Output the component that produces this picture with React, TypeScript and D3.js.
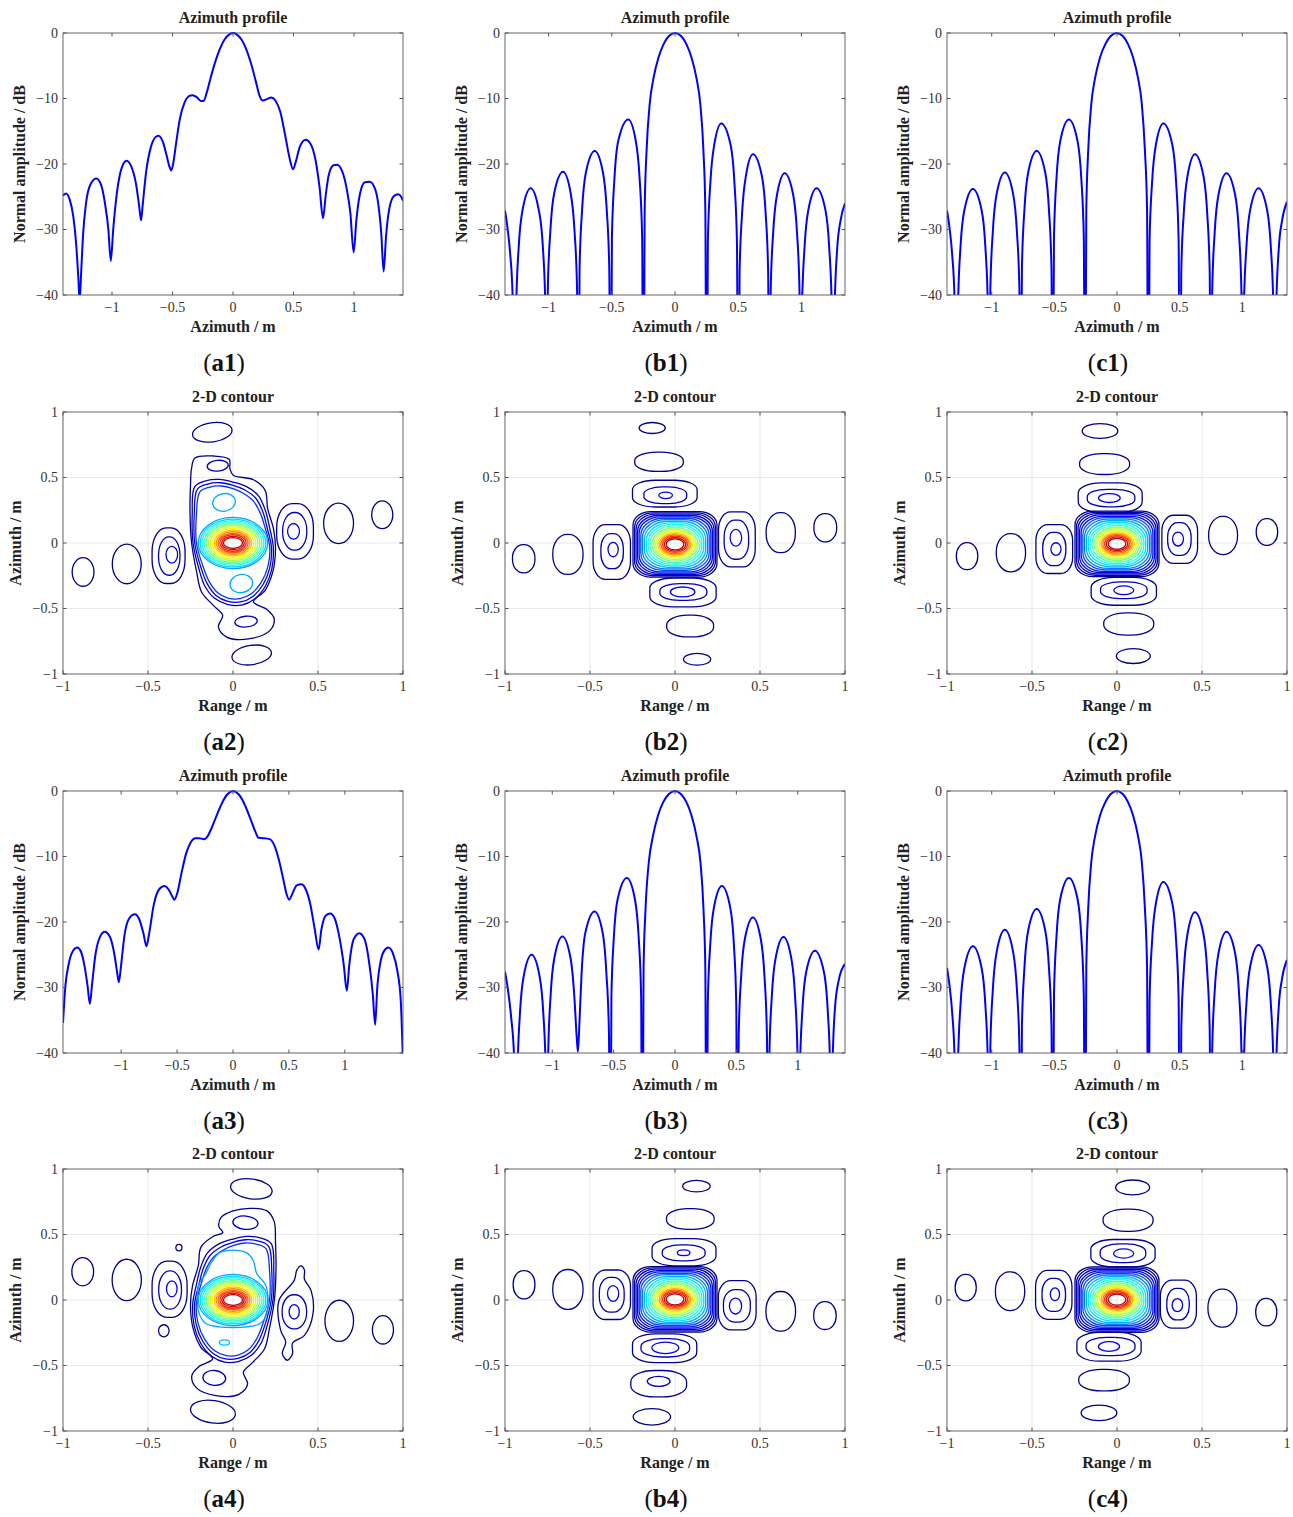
import * as d3 from "d3";
import { useEffect, useRef } from "react";

type Pt = [number, number];
// contour ring: [range, azimuth, halfRange, halfAzimuth, roundness, level, tiltDeg]
type Ring = number[];
// main-lobe ring: [halfRange, halfAzimuth, roundness, level]
type MainRing = number[];

// ---------- azimuth profiles: [azimuth m, normal amplitude dB] ----------
const profileA1: Pt[] = [
  [-1.405, -24.8], [-1.38, -24.5], [-1.35, -25.4], [-1.32, -28], [-1.295, -32.5], [-1.278, -37.5], [-1.267, -41],
  [-1.256, -37], [-1.24, -31], [-1.215, -26], [-1.18, -23.2], [-1.13, -22.2], [-1.09, -23.2], [-1.06, -25.8],
  [-1.03, -30], [-1.01, -34.8], [-0.99, -30], [-0.96, -24.5], [-0.92, -20.6], [-0.88, -19.5], [-0.84, -20.4],
  [-0.8, -23.2], [-0.775, -26.5], [-0.76, -28.6], [-0.745, -26], [-0.72, -21.5], [-0.68, -17.5], [-0.64, -15.9],
  [-0.617, -15.7], [-0.58, -16.6], [-0.55, -18.6], [-0.525, -20.4], [-0.51, -21], [-0.495, -20], [-0.47, -16.8],
  [-0.44, -13.2], [-0.4, -10.6], [-0.36, -9.6], [-0.335, -9.5], [-0.3, -9.8], [-0.265, -10.4], [-0.245, -10.4],
  [-0.22, -9.3], [-0.19, -7.2], [-0.15, -4.6], [-0.11, -2.5], [-0.07, -1], [-0.03, -0.2], [0, 0], [0.03, -0.2],
  [0.07, -1], [0.11, -2.5], [0.15, -4.7], [0.19, -7.5], [0.22, -9.6], [0.245, -10.3], [0.28, -10.1], [0.317, -9.85],
  [0.35, -10.3], [0.39, -12], [0.43, -15.5], [0.47, -19.3], [0.496, -20.8], [0.52, -19.6], [0.55, -17.5],
  [0.6, -16.3], [0.64, -16.9], [0.68, -19.2], [0.715, -23.5], [0.744, -28.3], [0.765, -25], [0.79, -21.8],
  [0.83, -20.2], [0.86, -20.1], [0.9, -21], [0.94, -23.8], [0.97, -27.5], [0.997, -33.5], [1.02, -28.5],
  [1.05, -24.5], [1.09, -22.8], [1.13, -22.7], [1.17, -23.6], [1.2, -26], [1.225, -30.5], [1.245, -36.4],
  [1.265, -31], [1.29, -27], [1.33, -24.9], [1.365, -24.6], [1.39, -25], [1.405, -25.6],
];

const profileB1: Pt[] = [
  [-1.345, -27.1], [-1.325, -29.8], [-1.305, -33.5], [-1.285, -40], [-1.266, -70],
  [-1.256, -41.5], [-1.236, -32.5], [-1.206, -27], [-1.142, -23.7], [-1.078, -27], [-1.046, -32.5], [-1.026, -41.5], [-1.016, -70],
  [-1.006, -39], [-0.986, -30.2], [-0.956, -24.5], [-0.886, -21.2], [-0.825, -24.5], [-0.795, -30.2], [-0.775, -39], [-0.765, -70],
  [-0.755, -36], [-0.735, -27], [-0.705, -21.3], [-0.635, -18], [-0.57, -21.3], [-0.54, -27], [-0.52, -36], [-0.509, -70],
  [-0.499, -31.2], [-0.479, -22.2], [-0.449, -16.5], [-0.37, -13.2], [-0.31, -16.5], [-0.28, -22.2], [-0.26, -31.2], [-0.25, -70],
  [-0.24, -27], [-0.225, -18], [-0.2, -10.8], [-0.17, -6.9], [-0.13, -3.7], [-0.09, -1.7], [-0.05, -0.5], [0, 0],
  [0.05, -0.5], [0.09, -1.7], [0.13, -3.7], [0.17, -6.9], [0.2, -10.8], [0.225, -18], [0.24, -27], [0.25, -70],
  [0.26, -31.8], [0.28, -22.8], [0.31, -17.1], [0.366, -13.8], [0.44, -17.1], [0.47, -22.8], [0.49, -31.8], [0.501, -70],
  [0.511, -36.5], [0.531, -27.5], [0.561, -21.8], [0.617, -18.5], [0.687, -21.8], [0.717, -27.5], [0.737, -36.5], [0.747, -70],
  [0.757, -39.4], [0.777, -30.4], [0.807, -24.7], [0.868, -21.4], [0.935, -24.7], [0.965, -30.4], [0.985, -39.4], [0.995, -70],
  [1.005, -41.7], [1.025, -32.7], [1.055, -27], [1.12, -23.7], [1.19, -27], [1.22, -32.7], [1.24, -41.7], [1.253, -70],
  [1.263, -42], [1.283, -33], [1.31, -28.6], [1.345, -26],
];

const profileC1: Pt[] = [
  [-1.357, -27.1], [-1.335, -30], [-1.315, -34], [-1.297, -40.5], [-1.279, -70],
  [-1.269, -41.6], [-1.249, -32.6], [-1.219, -27.1], [-1.15, -23.8], [-1.08, -27.1], [-1.051, -32.6], [-1.031, -41.6], [-1.021, -70],
  [-1.011, -39.1], [-0.991, -30.3], [-0.961, -24.6], [-0.895, -21.3], [-0.829, -24.6], [-0.799, -30.3], [-0.779, -39.1], [-0.769, -70],
  [-0.759, -36], [-0.739, -27], [-0.709, -21.3], [-0.641, -18], [-0.573, -21.3], [-0.543, -27], [-0.523, -36], [-0.513, -70],
  [-0.503, -31.2], [-0.483, -22.2], [-0.453, -16.5], [-0.384, -13.2], [-0.315, -16.5], [-0.285, -22.2], [-0.265, -31.2], [-0.255, -70],
  [-0.245, -27], [-0.23, -18], [-0.205, -10.8], [-0.175, -6.9], [-0.135, -3.7], [-0.093, -1.7], [-0.052, -0.5], [-0.002, 0],
  [0.048, -0.5], [0.088, -1.7], [0.128, -3.7], [0.168, -6.9], [0.198, -10.8], [0.223, -18], [0.24, -27], [0.25, -70],
  [0.26, -31.8], [0.28, -22.8], [0.31, -17.1], [0.37, -13.8], [0.442, -17.1], [0.472, -22.8], [0.492, -31.8], [0.503, -70],
  [0.513, -36.5], [0.533, -27.5], [0.563, -21.8], [0.622, -18.5], [0.69, -21.8], [0.72, -27.5], [0.74, -36.5], [0.75, -70],
  [0.76, -39.4], [0.78, -30.4], [0.81, -24.7], [0.874, -21.4], [0.943, -24.7], [0.973, -30.4], [0.993, -39.4], [1.003, -70],
  [1.013, -41.7], [1.033, -32.7], [1.063, -27], [1.13, -23.7], [1.198, -27], [1.228, -32.7], [1.248, -41.7], [1.261, -70],
  [1.271, -42], [1.291, -33], [1.318, -28.6], [1.357, -25.8],
];

const profileA3: Pt[] = [
  [-1.52, -35.4], [-1.5, -30], [-1.47, -26.5], [-1.43, -24.4], [-1.393, -23.9], [-1.36, -24.5], [-1.33, -26.5],
  [-1.3, -29.8], [-1.28, -32.5], [-1.26, -29.5], [-1.23, -25], [-1.19, -22.3], [-1.146, -21.5], [-1.1, -22.3],
  [-1.06, -25], [-1.035, -27.8], [-1.021, -29.2], [-1.0, -26.5], [-0.97, -22], [-0.93, -19.5], [-0.878, -18.8],
  [-0.84, -19.5], [-0.8, -21.8], [-0.774, -23.7], [-0.75, -21.8], [-0.71, -17.5], [-0.66, -15], [-0.613, -14.5],
  [-0.57, -15.2], [-0.54, -16.2], [-0.524, -16.6], [-0.5, -15.7], [-0.46, -12.5], [-0.42, -9.6], [-0.38, -7.9],
  [-0.336, -7.2], [-0.3, -7.2], [-0.262, -7.35], [-0.23, -7], [-0.2, -6], [-0.15, -3.9], [-0.1, -1.9], [-0.05, -0.5],
  [0, 0], [0.05, -0.5], [0.1, -1.9], [0.155, -4.2], [0.2, -6.2], [0.229, -7.15], [0.27, -7.2], [0.327, -7.35],
  [0.37, -8.3], [0.41, -10.5], [0.45, -13.5], [0.48, -15.8], [0.503, -16.6], [0.53, -15.7], [0.57, -14.4],
  [0.61, -14.25], [0.65, -15], [0.69, -17.2], [0.73, -21], [0.765, -24.2], [0.79, -21.2], [0.83, -19],
  [0.869, -18.7], [0.91, -19.5], [0.95, -22.2], [0.99, -26.5], [1.018, -30.5], [1.04, -26.5], [1.08, -22.6],
  [1.131, -21.7], [1.18, -22.8], [1.22, -26.5], [1.25, -31], [1.271, -35.7], [1.29, -30], [1.32, -26],
  [1.36, -24.2], [1.39, -23.9], [1.43, -24.8], [1.47, -27.5], [1.5, -32], [1.518, -40.5],
];

const profileB3: Pt[] = [
  [-1.385, -27.6], [-1.36, -30.5], [-1.335, -34.5], [-1.31, -41], [-1.293, -70],
  [-1.283, -42.9], [-1.263, -33.9], [-1.233, -28.3], [-1.168, -25], [-1.103, -28.3], [-1.073, -33.9], [-1.053, -42.9], [-1.043, -70],
  [-1.033, -40.1], [-1.013, -31.1], [-0.983, -25.5], [-0.917, -22.2], [-0.851, -25.5], [-0.821, -31.1], [-0.801, -37.5], [-0.791, -39.8],
  [-0.781, -36.5], [-0.761, -27.8], [-0.731, -21.7], [-0.655, -18.4], [-0.589, -21.7], [-0.559, -27.8], [-0.538, -37], [-0.528, -70],
  [-0.518, -31.3], [-0.498, -22.3], [-0.468, -16.6], [-0.392, -13.3], [-0.326, -16.6], [-0.296, -22.3], [-0.276, -31.3], [-0.266, -70],
  [-0.256, -27], [-0.24, -18], [-0.213, -10.8], [-0.18, -6.9], [-0.138, -3.7], [-0.096, -1.7], [-0.052, -0.5], [0, 0],
  [0.05, -0.5], [0.093, -1.7], [0.134, -3.7], [0.175, -6.9], [0.207, -10.8], [0.232, -18], [0.247, -27], [0.257, -70],
  [0.267, -32.5], [0.287, -23.5], [0.317, -17.8], [0.382, -14.5], [0.45, -17.8], [0.48, -23.5], [0.499, -32.5], [0.509, -70],
  [0.519, -37.3], [0.539, -28.3], [0.569, -22.6], [0.635, -19.3], [0.699, -22.6], [0.729, -28.3], [0.749, -37.3], [0.759, -70],
  [0.769, -40.3], [0.789, -31.3], [0.819, -25.6], [0.884, -22.3], [0.948, -25.6], [0.978, -31.3], [0.998, -40.3], [1.008, -70],
  [1.018, -42.4], [1.038, -33.4], [1.068, -27.7], [1.14, -24.4], [1.214, -27.7], [1.244, -33.4], [1.264, -42.4], [1.274, -70],
  [1.284, -41.5], [1.304, -33], [1.335, -28.8], [1.385, -26.4],
];

const profileC3: Pt[] = [
  [-1.357, -27], [-1.335, -30], [-1.315, -34], [-1.297, -40.5], [-1.279, -70],
  [-1.269, -41.6], [-1.249, -32.6], [-1.219, -27.1], [-1.15, -23.7], [-1.08, -27.1], [-1.051, -32.6], [-1.031, -41.6], [-1.021, -70],
  [-1.011, -39.1], [-0.991, -30.3], [-0.961, -24.6], [-0.895, -21.2], [-0.829, -24.6], [-0.799, -30.3], [-0.779, -39.1], [-0.769, -70],
  [-0.759, -36], [-0.739, -27], [-0.709, -21.3], [-0.641, -18], [-0.573, -21.3], [-0.543, -27], [-0.523, -36], [-0.513, -70],
  [-0.503, -31.2], [-0.483, -22.2], [-0.453, -16.5], [-0.384, -13.3], [-0.315, -16.5], [-0.285, -22.2], [-0.265, -31.2], [-0.255, -70],
  [-0.245, -27], [-0.23, -18], [-0.205, -10.8], [-0.175, -6.9], [-0.135, -3.7], [-0.093, -1.7], [-0.052, -0.5], [-0.002, 0],
  [0.048, -0.5], [0.088, -1.7], [0.128, -3.7], [0.168, -6.9], [0.198, -10.8], [0.223, -18], [0.24, -27], [0.25, -70],
  [0.26, -31.9], [0.28, -22.9], [0.31, -17.2], [0.37, -13.9], [0.442, -17.2], [0.472, -22.9], [0.492, -31.9], [0.503, -70],
  [0.513, -36.5], [0.533, -27.5], [0.563, -21.8], [0.622, -18.5], [0.69, -21.8], [0.72, -27.5], [0.74, -36.5], [0.75, -70],
  [0.76, -39.5], [0.78, -30.5], [0.81, -24.8], [0.874, -21.5], [0.943, -24.8], [0.973, -30.5], [0.993, -39.5], [1.003, -70],
  [1.013, -41.5], [1.033, -32.5], [1.063, -26.8], [1.13, -23.5], [1.198, -26.8], [1.228, -32.5], [1.248, -41.5], [1.261, -70],
  [1.271, -42], [1.291, -33], [1.318, -28.6], [1.357, -25.8],
];

const profileHalfSpan = [1.405, 1.345, 1.357, 1.52, 1.385, 1.357];
const dbTicks = [0, -10, -20, -30, -40];
const axisTicks = [-1, -0.5, 0, 0.5, 1];
const gridValues = [-0.5, 0, 0.5];

// ---------- 2-D contours ----------
// main lobe rings (rounded squares) shared by the b and c cases
const mainRingsSquare: MainRing[] = [
  [0.247, 0.25, 0.42, 0.0], [0.238, 0.24, 0.46, 0.03], [0.229, 0.23, 0.5, 0.06], [0.22, 0.22, 0.55, 0.09],
  [0.211, 0.21, 0.6, 0.13], [0.201, 0.199, 0.66, 0.18], [0.191, 0.188, 0.72, 0.23], [0.18, 0.176, 0.78, 0.28],
  [0.169, 0.164, 0.84, 0.33], [0.158, 0.152, 0.9, 0.38], [0.147, 0.14, 0.95, 0.43], [0.136, 0.128, 1, 0.48],
  [0.125, 0.116, 1, 0.53], [0.114, 0.104, 1, 0.58], [0.103, 0.093, 1, 0.63], [0.093, 0.082, 1, 0.69],
  [0.083, 0.072, 1, 0.75], [0.073, 0.062, 1, 0.81], [0.063, 0.052, 1, 0.88], [0.052, 0.042, 1, 0.95],
];
// elliptical main lobe rings of the a cases
const mainRingsEllipse: MainRing[] = [
  [0.204, 0.195, 1, 0.27], [0.193, 0.183, 1, 0.32], [0.182, 0.171, 1, 0.37], [0.17, 0.159, 1, 0.42],
  [0.158, 0.147, 1, 0.47], [0.146, 0.135, 1, 0.52], [0.134, 0.123, 1, 0.57], [0.122, 0.11, 1, 0.62],
  [0.11, 0.098, 1, 0.67], [0.099, 0.086, 1, 0.72], [0.088, 0.074, 1, 0.77], [0.077, 0.063, 1, 0.83],
  [0.066, 0.051, 1, 0.89], [0.056, 0.041, 1, 0.95],
];

const lobesA2: Ring[] = [
  [-0.882, -0.221, 0.064, 0.109, 1, 0, 0], [-0.625, -0.16, 0.085, 0.151, 1, 0, 0],
  [-0.379, -0.097, 0.097, 0.212, 0.85, 0, 0], [-0.375, -0.1, 0.063, 0.146, 0.95, 0.04, 0], [-0.36, -0.089, 0.034, 0.064, 1, 0.1, 0],
  [0.365, 0.089, 0.108, 0.212, 0.85, 0, 0], [0.363, 0.089, 0.071, 0.144, 0.95, 0.04, 0], [0.356, 0.089, 0.035, 0.06, 1, 0.1, 0],
  [0.621, 0.15, 0.088, 0.155, 1, 0, 0], [0.878, 0.216, 0.062, 0.106, 1, 0, 0],
  [-0.122, 0.845, 0.117, 0.073, 1, 0, -8], [-0.09, 0.59, 0.062, 0.041, 1, 0.04, -5],
  [0.077, -0.6, 0.066, 0.041, 1, 0.04, -5], [0.11, -0.855, 0.117, 0.074, 1, 0, -8],
  [-0.053, 0.31, 0.067, 0.067, 1, 0.28, -10], [0.049, -0.31, 0.067, 0.069, 1, 0.28, -10],
];
const tracesA2: Pt[][] = [
  [[-0.244, 0.567], [-0.224, 0.649], [-0.116, 0.664], [-0.022, 0.639], [-0.018, 0.567], [0.002, 0.517], [0.12, 0.483],
   [0.189, 0.402], [0.204, 0.262], [0.238, 0.109], [0.25, -0.043], [0.234, -0.221], [0.189, -0.361], [0.12, -0.45],
   [0.198, -0.506], [0.242, -0.578], [0.218, -0.667], [0.1, -0.73], [-0.037, -0.718], [-0.086, -0.641], [-0.061, -0.552],
   [-0.116, -0.476], [-0.185, -0.374], [-0.214, -0.221], [-0.244, 0.008], [-0.253, 0.237], [-0.25, 0.44]],
  [[-0.225, 0.43], [-0.16, 0.475], [-0.08, 0.485], [0.0, 0.465], [0.08, 0.43], [0.15, 0.36], [0.19, 0.25], [0.215, 0.12],
   [0.237, -0.03], [0.228, -0.2], [0.19, -0.33], [0.125, -0.43], [0.05, -0.475], [-0.03, -0.47], [-0.11, -0.42],
   [-0.165, -0.33], [-0.2, -0.2], [-0.235, 0], [-0.24, 0.22]],
  [[-0.21, 0.41], [-0.15, 0.45], [-0.075, 0.46], [0.0, 0.44], [0.07, 0.405], [0.135, 0.34], [0.175, 0.24], [0.2, 0.12],
   [0.226, -0.03], [0.216, -0.19], [0.178, -0.315], [0.115, -0.41], [0.045, -0.45], [-0.03, -0.445], [-0.1, -0.4],
   [-0.152, -0.31], [-0.188, -0.19], [-0.225, 0], [-0.228, 0.22]],
  [[-0.195, 0.39], [-0.14, 0.425], [-0.07, 0.435], [0.0, 0.415], [0.06, 0.38], [0.12, 0.32], [0.16, 0.23], [0.188, 0.12],
   [0.216, -0.03], [0.205, -0.18], [0.166, -0.3], [0.105, -0.39], [0.04, -0.425], [-0.03, -0.42], [-0.09, -0.38],
   [-0.14, -0.295], [-0.176, -0.18], [-0.215, 0], [-0.215, 0.22]],
];
const traceLevelsA2 = [0, 0.04, 0.09, 0.16];

const lobesA4: Ring[] = [
  [-0.884, 0.216, 0.064, 0.108, 1, 0, 0], [-0.625, 0.153, 0.086, 0.158, 1, 0, 0],
  [-0.373, 0.082, 0.103, 0.215, 0.85, 0, 0], [-0.37, 0.077, 0.067, 0.146, 0.95, 0.04, 0], [-0.36, 0.085, 0.031, 0.061, 1, 0.1, 0],
  [-0.318, 0.4, 0.018, 0.025, 1, 0, 0], [-0.407, -0.235, 0.031, 0.046, 1, 0, 0],
  [0.361, -0.09, 0.072, 0.13, 0.95, 0.04, 0], [0.36, -0.09, 0.03, 0.055, 1, 0.1, 0],
  [0.625, -0.159, 0.084, 0.157, 1, 0, 0], [0.882, -0.228, 0.062, 0.108, 1, 0, 0],
  [0.108, 0.848, 0.123, 0.076, 1, 0, 8], [0.073, 0.59, 0.074, 0.051, 1, 0.04, 5],
  [-0.11, -0.595, 0.067, 0.057, 1, 0.04, 5], [-0.118, -0.853, 0.133, 0.086, 1, 0, 8],
  [-0.05, -0.325, 0.03, 0.02, 1, 0.3, 0],
];
const tracesA4: Pt[][] = [
  [[0.376, 0.23], [0.4, 0.26], [0.42, 0.23], [0.42, 0.16], [0.46, 0.07], [0.47, -0.11], [0.42, -0.27], [0.35, -0.33],
   [0.35, -0.41], [0.32, -0.46], [0.29, -0.41], [0.31, -0.32], [0.28, -0.23], [0.27, -0.006], [0.36, 0.15]],
  [[0.242, 0.6], [0.2, 0.68], [0.1, 0.7], [0.0, 0.68], [-0.07, 0.63], [-0.083, 0.56], [-0.06, 0.515], [-0.12, 0.483],
   [-0.189, 0.402], [-0.204, 0.262], [-0.238, 0.109], [-0.25, -0.043], [-0.234, -0.221], [-0.189, -0.361], [-0.12, -0.45],
   [-0.198, -0.506], [-0.242, -0.578], [-0.218, -0.667], [-0.1, -0.73], [0.037, -0.718], [0.086, -0.641], [0.061, -0.552],
   [0.116, -0.476], [0.185, -0.374], [0.214, -0.221], [0.244, 0.008], [0.253, 0.237], [0.25, 0.44]],
  [[0.225, 0.43], [0.16, 0.475], [0.08, 0.485], [0.0, 0.465], [-0.08, 0.43], [-0.15, 0.36], [-0.19, 0.25], [-0.215, 0.12],
   [-0.237, -0.03], [-0.228, -0.2], [-0.19, -0.33], [-0.125, -0.43], [-0.05, -0.475], [0.03, -0.47], [0.11, -0.42],
   [0.165, -0.33], [0.2, -0.2], [0.235, 0], [0.24, 0.22]],
  [[0.21, 0.41], [0.15, 0.45], [0.075, 0.46], [0.0, 0.44], [-0.07, 0.405], [-0.135, 0.34], [-0.175, 0.24], [-0.2, 0.12],
   [-0.226, -0.03], [-0.216, -0.19], [-0.178, -0.315], [-0.115, -0.41], [-0.045, -0.45], [0.03, -0.445], [0.1, -0.4],
   [0.152, -0.31], [0.188, -0.19], [0.225, 0], [0.228, 0.22]],
  [[0.195, 0.39], [0.14, 0.425], [0.07, 0.435], [0.0, 0.415], [-0.06, 0.38], [-0.12, 0.32], [-0.16, 0.23], [-0.188, 0.12],
   [-0.216, -0.03], [-0.205, -0.18], [-0.166, -0.3], [-0.105, -0.39], [-0.04, -0.425], [0.03, -0.42], [0.09, -0.38],
   [0.14, -0.295], [0.176, -0.18], [0.215, 0], [0.215, 0.22]],
  [[-0.21, 0.02], [-0.2, 0.12], [-0.16, 0.2], [-0.13, 0.28], [-0.08, 0.36], [0.0, 0.38], [0.08, 0.36], [0.12, 0.3],
   [0.14, 0.2], [0.19, 0.12], [0.207, 0.0], [0.2, -0.1], [0.16, -0.18], [0.08, -0.205], [0.0, -0.21], [-0.08, -0.205],
   [-0.16, -0.18], [-0.2, -0.1]],
];
const traceLevelsA4 = [0, 0, 0.04, 0.09, 0.16, 0.27];

const lobesB2: Ring[] = [
  [-0.89, -0.12, 0.066, 0.108, 0.95, 0, 0], [-0.63, -0.087, 0.089, 0.153, 0.95, 0, 0],
  [-0.372, -0.069, 0.11, 0.209, 0.65, 0, 0], [-0.37, -0.062, 0.066, 0.134, 0.85, 0.04, 0], [-0.364, -0.05, 0.03, 0.055, 1, 0.1, 0],
  [0.364, 0.028, 0.108, 0.21, 0.65, 0, 0], [0.361, 0.025, 0.072, 0.149, 0.85, 0.04, 0], [0.358, 0.04, 0.034, 0.064, 1, 0.1, 0],
  [0.622, 0.079, 0.086, 0.153, 0.95, 0, 0], [0.884, 0.117, 0.067, 0.108, 0.95, 0, 0],
  [-0.134, 0.878, 0.077, 0.042, 1, 0, 0], [-0.094, 0.62, 0.143, 0.074, 0.9, 0, 0],
  [-0.06, 0.377, 0.19, 0.102, 0.7, 0, 0], [-0.057, 0.364, 0.126, 0.064, 0.85, 0.04, 0], [-0.055, 0.364, 0.04, 0.025, 1, 0.1, 0],
  [0.047, -0.377, 0.195, 0.11, 0.7, 0, 0], [0.049, -0.374, 0.138, 0.064, 0.85, 0.04, 0], [0.045, -0.374, 0.072, 0.038, 1, 0.1, 0],
  [0.089, -0.634, 0.138, 0.083, 0.9, 0, 0], [0.13, -0.888, 0.08, 0.045, 1, 0, 0],
];
const lobesC2: Ring[] = [
  [-0.882, -0.1, 0.063, 0.103, 0.95, 0, 0], [-0.624, -0.074, 0.086, 0.146, 0.95, 0, 0],
  [-0.369, -0.046, 0.108, 0.187, 0.65, 0, 0], [-0.369, -0.046, 0.068, 0.127, 0.85, 0.04, 0], [-0.359, -0.046, 0.03, 0.048, 1, 0.1, 0],
  [0.369, 0.028, 0.105, 0.184, 0.65, 0, 0], [0.367, 0.03, 0.069, 0.125, 0.85, 0.04, 0], [0.359, 0.03, 0.032, 0.053, 1, 0.1, 0],
  [0.624, 0.058, 0.085, 0.146, 0.95, 0, 0], [0.882, 0.084, 0.063, 0.102, 0.95, 0, 0],
  [-0.1, 0.855, 0.105, 0.057, 1, 0, 0], [-0.073, 0.603, 0.147, 0.08, 0.9, 0, 0],
  [-0.04, 0.346, 0.188, 0.113, 0.7, 0, 0], [-0.035, 0.343, 0.14, 0.067, 0.85, 0.04, 0], [-0.045, 0.343, 0.064, 0.034, 1, 0.1, 0],
  [0.04, -0.369, 0.192, 0.106, 0.7, 0, 0], [0.04, -0.361, 0.137, 0.064, 0.85, 0.04, 0], [0.04, -0.361, 0.059, 0.033, 1, 0.1, 0],
  [0.069, -0.618, 0.147, 0.085, 0.9, 0, 0], [0.096, -0.863, 0.1, 0.057, 1, 0, 0],
];
const lobesB4: Ring[] = [
  [-0.888, 0.117, 0.064, 0.108, 0.95, 0, 0], [-0.63, 0.081, 0.089, 0.152, 0.95, 0, 0],
  [-0.372, 0.04, 0.11, 0.189, 0.65, 0, 0], [-0.372, 0.04, 0.073, 0.133, 0.85, 0.04, 0], [-0.364, 0.05, 0.033, 0.06, 1, 0.1, 0],
  [0.366, -0.04, 0.111, 0.188, 0.65, 0, 0], [0.364, -0.045, 0.079, 0.124, 0.85, 0.04, 0], [0.356, -0.046, 0.036, 0.061, 1, 0.1, 0],
  [0.622, -0.086, 0.087, 0.151, 0.95, 0, 0], [0.882, -0.119, 0.066, 0.106, 0.95, 0, 0],
  [0.126, 0.869, 0.081, 0.044, 1, 0, 0], [0.09, 0.618, 0.14, 0.079, 0.9, 0, 0],
  [0.053, 0.365, 0.188, 0.104, 0.7, 0, 0], [0.051, 0.36, 0.126, 0.061, 0.85, 0.04, 0], [0.051, 0.36, 0.037, 0.022, 1, 0.1, 0],
  [-0.061, -0.368, 0.189, 0.11, 0.7, 0, 0], [-0.057, -0.365, 0.143, 0.07, 0.85, 0.04, 0], [-0.057, -0.365, 0.079, 0.044, 1, 0.1, 0],
  [-0.096, -0.639, 0.164, 0.101, 0.85, 0, 0], [-0.096, -0.621, 0.067, 0.038, 1, 0.04, 0],
  [-0.136, -0.892, 0.11, 0.063, 1, 0, 0],
];
const lobesC4: Ring[] = [
  [-0.89, 0.095, 0.062, 0.101, 0.95, 0, 0], [-0.629, 0.067, 0.086, 0.148, 0.95, 0, 0],
  [-0.372, 0.039, 0.107, 0.187, 0.65, 0, 0], [-0.372, 0.039, 0.069, 0.126, 0.85, 0.04, 0], [-0.365, 0.044, 0.027, 0.049, 1, 0.1, 0],
  [0.361, -0.032, 0.106, 0.183, 0.65, 0, 0], [0.359, -0.032, 0.066, 0.12, 0.85, 0.04, 0], [0.355, -0.039, 0.031, 0.05, 1, 0.1, 0],
  [0.62, -0.062, 0.085, 0.145, 0.95, 0, 0], [0.878, -0.093, 0.062, 0.105, 0.95, 0, 0],
  [0.092, 0.859, 0.1, 0.057, 1, 0, 0], [0.065, 0.609, 0.147, 0.085, 0.9, 0, 0],
  [0.035, 0.357, 0.189, 0.105, 0.7, 0, 0], [0.035, 0.357, 0.134, 0.072, 0.85, 0.04, 0], [0.039, 0.355, 0.059, 0.035, 1, 0.1, 0],
  [-0.047, -0.357, 0.189, 0.11, 0.7, 0, 0], [-0.038, -0.355, 0.144, 0.069, 0.85, 0.04, 0], [-0.047, -0.355, 0.062, 0.037, 1, 0.1, 0],
  [-0.076, -0.612, 0.149, 0.082, 0.9, 0, 0], [-0.106, -0.862, 0.105, 0.059, 1, 0, 0],
];

// ---------- layout ----------
const colLeft = [63, 505, 947];
const PW = 340;
const PH = 262;

const jet = d3
  .scaleLinear<string>()
  .domain([0, 0.11, 0.36, 0.61, 0.86, 1])
  .range(["#00008f", "#0000ff", "#00ffff", "#ffff00", "#ff0000", "#800000"]);

const SERIF = "'Liberation Serif', 'Times New Roman', serif";

const fmt = (v: number) => (v < 0 ? "\u2212" + Math.abs(v) : String(v));

type Sel = d3.Selection<SVGGElement, unknown, null, undefined>;

function grid(g: Sel, x: any, y: any) {
  gridValues.forEach((v) => {
    g.append("line").attr("x1", x(v)).attr("x2", x(v)).attr("y1", 0).attr("y2", PH)
      .attr("stroke", "#e3e3e3").attr("stroke-width", 0.8);
    g.append("line").attr("y1", y(v)).attr("y2", y(v)).attr("x1", 0).attr("x2", PW)
      .attr("stroke", "#e3e3e3").attr("stroke-width", 0.8);
  });
}

function box(g: Sel, x: any, y: any, xt: number[], yt: number[]) {
  const axisColor = "#555";
  g.append("rect").attr("width", PW).attr("height", PH).attr("fill", "none")
    .attr("stroke", axisColor).attr("stroke-width", 0.9);
  const tl = 3.5;
  xt.forEach((v) => {
    g.append("line").attr("x1", x(v)).attr("x2", x(v)).attr("y1", PH).attr("y2", PH - tl).attr("stroke", axisColor);
    g.append("line").attr("x1", x(v)).attr("x2", x(v)).attr("y1", 0).attr("y2", tl).attr("stroke", axisColor);
    g.append("text").attr("x", x(v)).attr("y", PH + 17).attr("text-anchor", "middle")
      .attr("font-family", SERIF).attr("font-size", 14).attr("fill", "#333").text(fmt(v));
  });
  yt.forEach((v) => {
    g.append("line").attr("y1", y(v)).attr("y2", y(v)).attr("x1", 0).attr("x2", tl).attr("stroke", axisColor);
    g.append("line").attr("y1", y(v)).attr("y2", y(v)).attr("x1", PW).attr("x2", PW - tl).attr("stroke", axisColor);
    g.append("text").attr("x", -5).attr("y", y(v)).attr("dy", "0.33em").attr("text-anchor", "end")
      .attr("font-family", SERIF).attr("font-size", 14).attr("fill", "#333").text(fmt(v));
  });
}

function labels(g: Sel, title: string, xLabel: string, yLabel: string, yOff: number, tag: string) {
  g.append("text").attr("x", PW / 2).attr("y", -10).attr("text-anchor", "middle")
    .attr("font-family", SERIF).attr("font-weight", "bold").attr("font-size", 16).attr("fill", "#222").text(title);
  g.append("text").attr("x", PW / 2).attr("y", PH + 37).attr("text-anchor", "middle")
    .attr("font-family", SERIF).attr("font-weight", "bold").attr("font-size", 16).attr("fill", "#222").text(xLabel);
  g.append("text").attr("transform", `translate(${-yOff},${PH / 2}) rotate(-90)`).attr("dy", "0.33em")
    .attr("text-anchor", "middle").attr("font-family", SERIF).attr("font-weight", "bold")
    .attr("font-size", 16).attr("fill", "#222").text(yLabel);
  const t = g.append("text").attr("x", 161).attr("y", PH + 76).attr("text-anchor", "middle")
    .attr("font-family", SERIF).attr("font-size", 25).attr("fill", "#111");
  t.append("tspan").text("(");
  t.append("tspan").attr("font-weight", "bold").text(tag);
  t.append("tspan").text(")");
}

function drawProfile(root: any, tag: string, col: number, top: number, pts: Pt[], span: number) {
  const g: Sel = root.append("g").attr("transform", `translate(${colLeft[col]},${top})`);
  const x = d3.scaleLinear().domain([-span, span]).range([0, PW]);
  const y = d3.scaleLinear().domain([-40, 0]).range([PH, 0]);
  g.append("clipPath").attr("id", `clip-${tag}`).append("rect")
    .attr("x", 0).attr("y", -3).attr("width", PW).attr("height", PH + 3);
  const line = d3.line<Pt>().x((d) => x(d[0])).y((d) => y(d[1])).curve(d3.curveMonotoneX);
  g.append("path").attr("d", line(pts)).attr("clip-path", `url(#clip-${tag})`)
    .attr("fill", "none").attr("stroke", "#0000ff").attr("stroke-width", 2);
  box(g, x, y, axisTicks, dbTicks);
  labels(g, "Azimuth profile", "Azimuth / m", "Normal amplitude / dB", 43, tag);
}

function drawContour(root: any, tag: string, col: number, top: number, lobes: Ring[], main: MainRing[],
  center: Pt, traces: Pt[][], traceLevels: number[]) {
  const g: Sel = root.append("g").attr("transform", `translate(${colLeft[col]},${top})`);
  const x = d3.scaleLinear().domain([-1, 1]).range([0, PW]);
  const y = d3.scaleLinear().domain([-1, 1]).range([PH, 0]);
  grid(g, x, y);
  const layer = g.append("g").attr("fill", "none").attr("stroke-width", 1.3);
  const ring = (cx: number, cy: number, hx: number, hy: number, round: number, level: number, tilt: number) => {
    const x0 = x(cx - hx), x1 = x(cx + hx), y0 = y(cy + hy), y1 = y(cy - hy);
    const w = x1 - x0, h = y1 - y0;
    layer.append("rect").attr("x", x0).attr("y", y0).attr("width", w).attr("height", h)
      .attr("rx", (round * w) / 2).attr("ry", (round * h) / 2)
      .attr("transform", tilt ? `rotate(${tilt},${x(cx)},${y(cy)})` : null)
      .attr("stroke", jet(level));
  };
  const closed = d3.line<Pt>().x((d) => x(d[0])).y((d) => y(d[1])).curve(d3.curveCatmullRomClosed.alpha(0.5));
  traces.forEach((t, i) => {
    layer.append("path").attr("d", closed(t)).attr("stroke", jet(traceLevels[i]));
  });
  lobes.forEach((r) => ring(r[0], r[1], r[2], r[3], r[4], r[5], r[6] || 0));
  main.forEach((m) => ring(center[0], center[1], m[0], m[1], m[2], m[3], 0));
  box(g, x, y, axisTicks, axisTicks);
  labels(g, "2-D contour", "Range / m", "Azimuth / m", 47, tag);
}

export default function App() {
  const ref = useRef<SVGSVGElement>(null);
  useEffect(() => {
    const svg = d3.select(ref.current);
    svg.selectAll("*").remove();
    svg.append("rect").attr("width", 1293).attr("height", 1517).attr("fill", "#fff");
    drawProfile(svg, "a1", 0, 33, profileA1, profileHalfSpan[0]);
    drawProfile(svg, "b1", 1, 33, profileB1, profileHalfSpan[1]);
    drawProfile(svg, "c1", 2, 33, profileC1, profileHalfSpan[2]);
    drawContour(svg, "a2", 0, 412, lobesA2, mainRingsEllipse, [0, 0], tracesA2, traceLevelsA2);
    drawContour(svg, "b2", 1, 412, lobesB2, mainRingsSquare, [0, -0.01], [], []);
    drawContour(svg, "c2", 2, 412, lobesC2, mainRingsSquare, [0, -0.006], [], []);
    drawProfile(svg, "a3", 0, 791, profileA3, profileHalfSpan[3]);
    drawProfile(svg, "b3", 1, 791, profileB3, profileHalfSpan[4]);
    drawProfile(svg, "c3", 2, 791, profileC3, profileHalfSpan[5]);
    drawContour(svg, "a4", 0, 1169, lobesA4, mainRingsEllipse, [0, 0], tracesA4, traceLevelsA4);
    drawContour(svg, "b4", 1, 1169, lobesB4, mainRingsSquare, [0, 0.005], [], []);
    drawContour(svg, "c4", 2, 1169, lobesC4, mainRingsSquare, [0, 0.003], [], []);
  }, []);
  return (
    <svg ref={ref} width={1293} height={1517} style={{ position: "absolute", left: 0, top: 0, display: "block" }} />
  );
}
